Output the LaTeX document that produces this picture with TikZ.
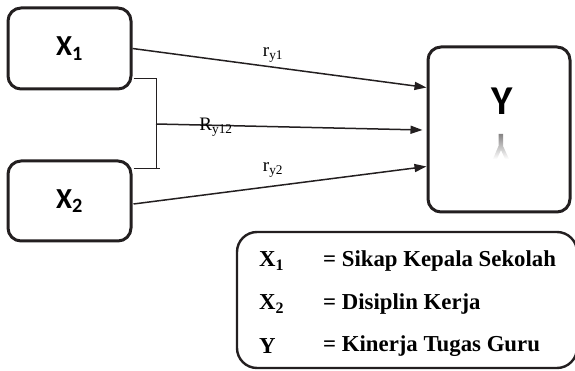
\documentclass[tikz,border=0pt]{standalone}
\usepackage{fontspec}
\usepackage{xcolor}
\usetikzlibrary{positioning, fit, arrows.meta}
\usetikzlibrary{calc}
\setmainfont{Liberation Serif}
\newfontfamily\boxfont{Carlito}
\definecolor{Ink}{RGB}{35, 31, 32}

\tikzset{
    varbox/.style={draw=Ink, line width=3pt, rounded corners=13pt, inner sep=0pt},
    keybox/.style={draw=Ink, line width=2.4pt, rounded corners=20pt, inner sep=0pt},
    path/.style={draw=Ink, line width=1.5pt, -{Triangle[length=12pt, width=8pt]}},
    brace/.style={draw=Ink, line width=1pt},
    coef/.style={font=\fontsize{19}{19}\selectfont, inner sep=0pt},
    keyrow/.style={anchor=west, font=\bfseries\fontsize{22.8}{22.8}\selectfont, inner sep=0pt}
}

\begin{document}
\begin{tikzpicture}[x=1pt, y=-1pt]
            \useasboundingbox (0,0) rectangle (575,371);
            \clip (0,0) rectangle (575,371);

            % Variable boxes
            \node[varbox, minimum width=123pt, minimum height=81pt] (x1) at (69.5,48.5)
                {\boxfont\bfseries\fontsize{29}{29}\selectfont X\textsubscript{1}};
            \node[varbox, minimum width=123pt, minimum height=80pt] (x2) at (69.5,201)
                {\boxfont\bfseries\fontsize{29}{29}\selectfont X\textsubscript{2}};
            \node[varbox, minimum width=142pt, minimum height=165pt] (y) at (499,129.5) {};
            \node (ylab) at (502.5,101) {\boxfont\bfseries\fontsize{41}{41}\selectfont Y};
            \shade[top color=Ink!55, bottom color=white]
                (498.5,134) -- (503,134) -- (503,146) -- (509,159) -- (505,159) -- (501,150)
                -- (497,159) -- (493,159) -- (498.5,146) -- cycle;

            % Joint bracket between X1 and X2
            \coordinate (b1) at ($(x1.south east)+(1,-12)$);
            \coordinate (b2) at ($(x2.north east)+(1,9)$);
            \coordinate (bj) at (156,124);
            \draw[brace] (b1) -- (b1 -| bj) -- (b2 -| bj) -- ($(b2 -| bj)+(4,0)$);
            \draw[brace] (b2) -- (b2 -| bj);

            % Paths to Y
            \draw[path] (x1.east) -- ($(y.west)+(0,-42)$);
            \draw[path] (bj) -- ($(y.west)+(-4,0.5)$);
            \draw[path] ($(x2.east)+(1,3)$) -- ($(y.west)+(0,37)$);
            \node[coef] (ry1) at (273,55) {r\textsubscript{y1}};
            \node[coef] (ry12) at (216,127) {R\textsubscript{y12}};
            \node[coef] (ry2) at (273,170) {r\textsubscript{y2}};

            % Legend
            \node[keybox, minimum width=340pt, minimum height=136pt] (key) at (407,300) {};
            \node[keyrow] (k1) at (259,261) {X\textsubscript{1}};
            \node[keyrow] (k2) at (259,304) {X\textsubscript{2}};
            \node[keyrow] (k3) at (259,346) {Y};
            \node[keyrow] (d1) at (323,261) {= Sikap Kepala Sekolah};
            \node[keyrow] (d2) at (323,304) {= Disiplin Kerja};
            \node[keyrow] (d3) at (323,346) {= Kinerja Tugas Guru};
        \end{tikzpicture}
\end{document}
